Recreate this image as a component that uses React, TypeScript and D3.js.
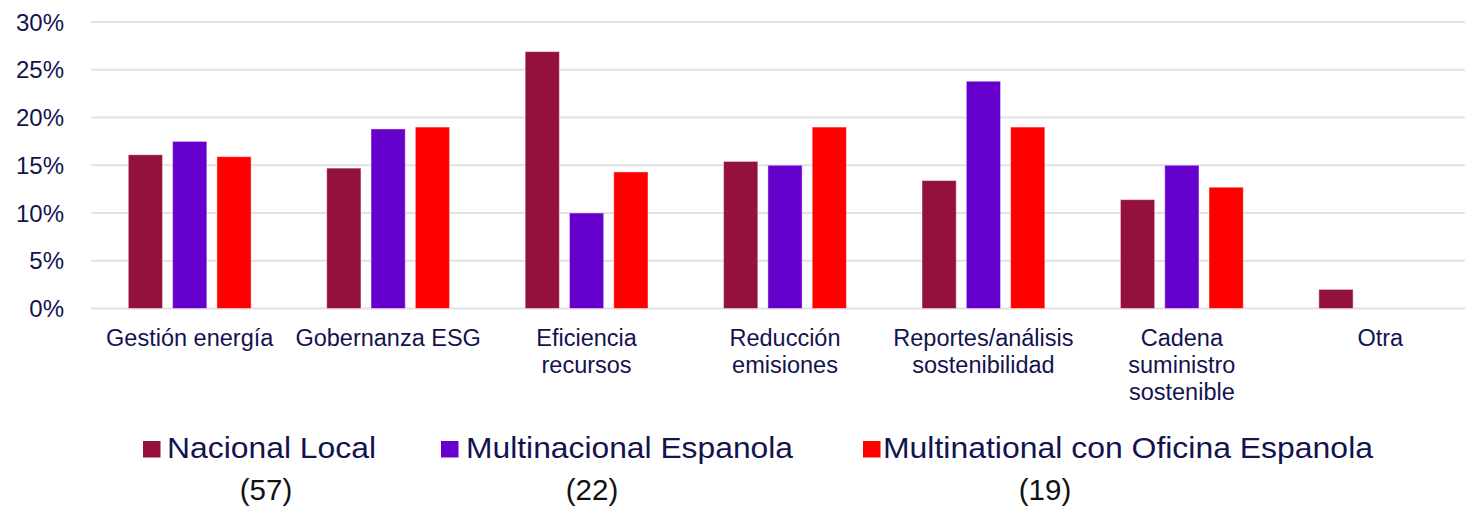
import * as d3 from "d3";
import React from "react";

// categories (label lines) and series values in percent
const categories = [
  "Gestión energía",
  "Gobernanza ESG",
  "Eficiencia\nrecursos",
  "Reducción\nemisiones",
  "Reportes/análisis\nsostenibilidad",
  "Cadena\nsuministro\nsostenible",
  "Otra",
];
const nacionalLocal = [16.1, 14.7, 26.9, 15.4, 13.4, 11.4, 2.0];
const multinacionalEspanola = [17.5, 18.8, 10.0, 15.0, 23.8, 15.0, 0];
const multinationalOficina = [15.9, 19.0, 14.3, 19.0, 19.0, 12.7, 0];

const seriesNames = ["Nacional Local", "Multinacional Espanola", "Multinational con Oficina Espanola"];
const seriesCounts = ["(57)", "(22)", "(19)"];
const seriesColors = ["#93103F", "#6600CC", "#FF0000"];
const yTicks = [0, 5, 10, 15, 20, 25, 30];

const W = 1465;
const H = 508;
const textColor = "#13134F";
const font = "'Liberation Sans', Arial, sans-serif";

export default function App() {
  const series = [nacionalLocal, multinacionalEspanola, multinationalOficina];

  const x = d3.scaleBand<number>().domain(d3.range(categories.length)).range([90.5, 1479.5]);
  const xs = d3
    .scaleBand<number>()
    .domain(d3.range(series.length))
    .range([0, x.bandwidth()])
    .paddingInner(0.227)
    .paddingOuter(0.853);
  const y = d3.scaleLinear().domain([0, 30]).range([308.5, 22]);

  const legendSquareX = [143, 441, 863];
  const legendTextX = [167, 466, 883];
  const legendTextW = [209, 327, 490];
  const legendCountX = [266, 592, 1045];

  return (
    <svg
      width={W}
      height={H}
      style={{ position: "absolute", left: 0, top: 0, background: "#fff" }}
      fontFamily={font}
    >
      {/* grid */}
      {yTicks.map((t) => (
        <line key={t} x1={91} x2={W} y1={y(t)} y2={y(t)} stroke="#E2E2E2" strokeWidth={2} />
      ))}
      {yTicks.map((t) => (
        <text key={"l" + t} x={64} y={y(t) + 8.5} textAnchor="end" fontSize={24} fill={textColor}>
          {t + "%"}
        </text>
      ))}

      {/* bars */}
      {series.map((vals, si) =>
        vals.map((v, ci) =>
          v > 0 ? (
            <rect
              key={si + "-" + ci}
              x={(x(ci) ?? 0) + (xs(si) ?? 0)}
              y={y(v)}
              width={xs.bandwidth()}
              height={y(0) - y(v)}
              fill={seriesColors[si]}
              stroke="#fff"
              strokeOpacity={0.45}
              strokeWidth={1}
            />
          ) : null
        )
      )}

      {/* category labels */}
      {categories.map((c, ci) => (
        <text
          key={c}
          x={(x(ci) ?? 0) + x.bandwidth() / 2}
          y={346}
          textAnchor="middle"
          fontSize={23.5}
          fill={textColor}
        >
          {c.split("\n").map((line, li) => (
            <tspan key={li} x={(x(ci) ?? 0) + x.bandwidth() / 2} dy={li === 0 ? 0 : 27}>
              {line}
            </tspan>
          ))}
        </text>
      ))}

      {/* legend */}
      {seriesNames.map((name, si) => (
        <g key={name}>
          <rect x={legendSquareX[si]} y={441} width={17.5} height={16.5} fill={seriesColors[si]} />
          <text
            x={legendTextX[si]}
            y={457.5}
            fontSize={30}
            fill={textColor}
            textLength={legendTextW[si]}
            lengthAdjust="spacingAndGlyphs"
          >
            {name}
          </text>
          <text x={legendCountX[si]} y={500} textAnchor="middle" fontSize={29.5} fill="#111">
            {seriesCounts[si]}
          </text>
        </g>
      ))}
    </svg>
  );
}
